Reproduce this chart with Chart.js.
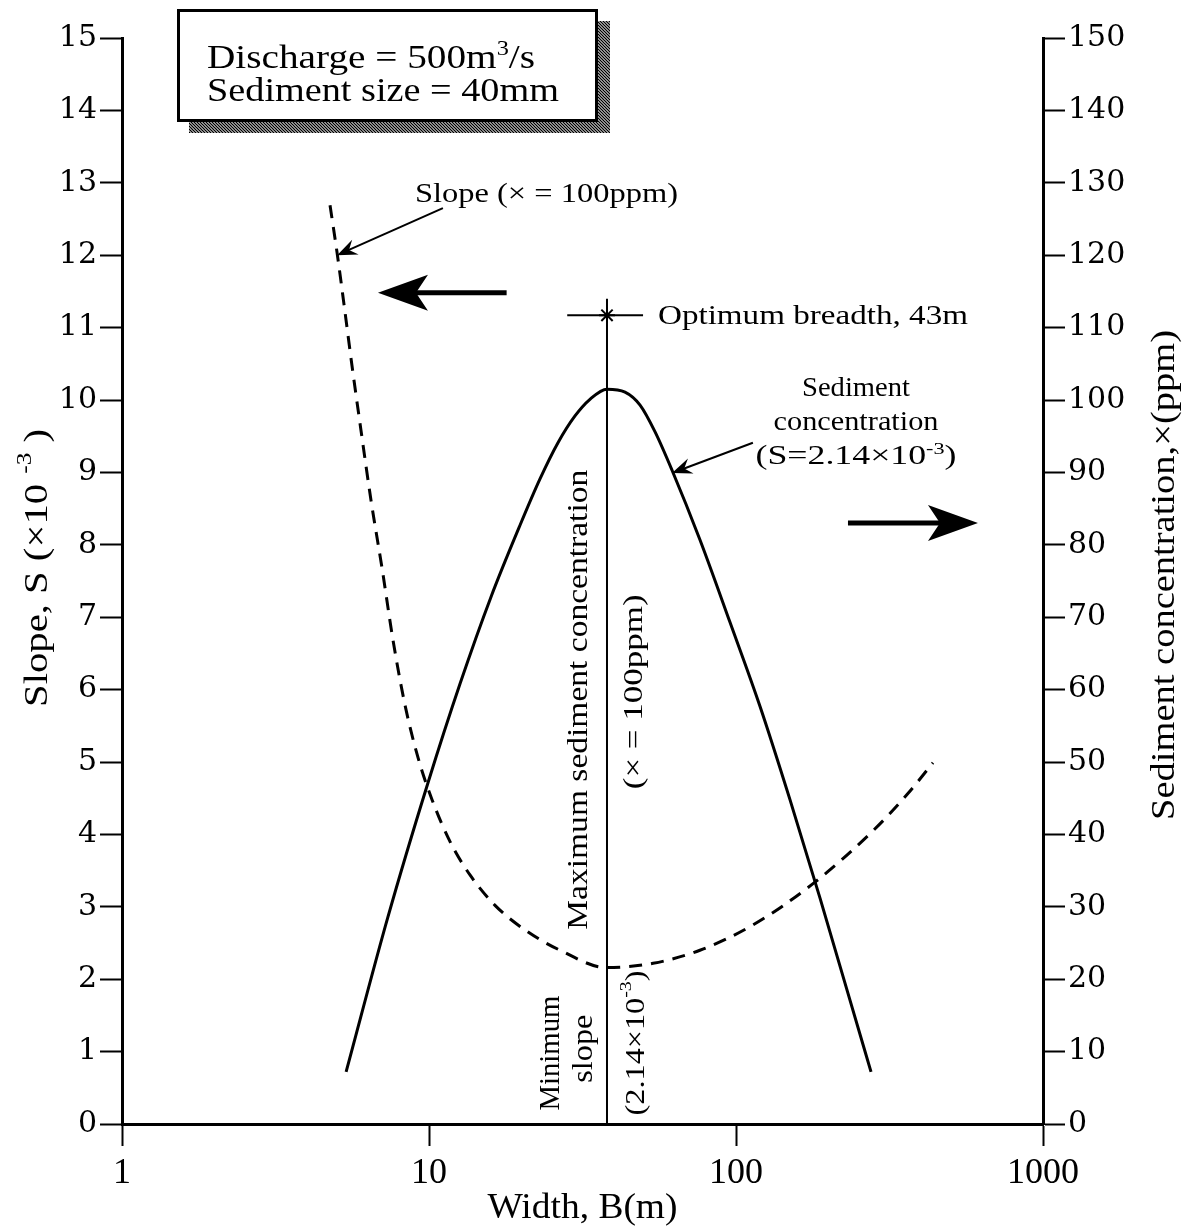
<!DOCTYPE html>
<html>
<head>
<meta charset="utf-8">
<script src="https://cdn.jsdelivr.net/npm/chart.js@4"></script>
<style>
  body { margin: 0; background: #fff; }
</style>
</head>
<body>
<canvas id="myChart" width="1196" height="1230"></canvas>
<script>
// width B (m) and slope S (x10^-3) for the dashed curve, X = 100 ppm
const slopeWidth  = [4.76, 5.02, 5.29, 5.61, 6.00, 6.47, 7.03, 7.63, 8.35, 9.21, 10.23, 11.71, 13.6, 16.41, 20.55, 26.72, 38.0, 53.7, 76.3, 113.6, 178.2, 279.5, 360.6, 438.2];
const slopeValues = [12.69, 12.03, 11.31, 10.48, 9.59, 8.62, 7.68, 6.69, 5.79, 5.06, 4.48, 3.90, 3.44, 3.02, 2.68, 2.40, 2.16, 2.22, 2.40, 2.75, 3.32, 4.05, 4.55, 4.99];

// width B (m) and sediment concentration (ppm) for the solid curve, S = 2.14e-3
const concWidth  = [5.37, 7.35, 9.92, 12.62, 15.92, 19.79, 22.99, 26.31, 29.89, 33.44, 38.0, 43.5, 48.7, 54.5, 61.9, 76.3, 95.6, 119.7, 149.9, 187.8, 235.1, 275.3];
const concValues = [7.2, 28.6, 47.1, 60.8, 72.8, 82.7, 89.1, 94.1, 97.8, 100.1, 101.5, 101.1, 99.3, 95.6, 90.3, 80.7, 69.3, 57.7, 44.8, 31.2, 17.1, 7.2];

// optimum breadth marker
const optimumWidth = 38.0;
const optimumTop = 11.4;
const optimumMark = 11.17;
const optimumBar = [28.2, 49.8];

const xTicks = [1, 10, 100, 1000];

const serif = '"Liberation Serif", "Times New Roman", serif';

function drawText(ctx, segs, x, y, o) {
  const size = o.size, supSize = size * 0.62;
  const setFont = sg => { ctx.font = (sg.sup ? supSize : size) + 'px ' + serif; };
  let natural = 0;
  segs.forEach(sg => { setFont(sg); natural += ctx.measureText(sg.t).width; });
  const sx = o.width ? o.width / natural : 1;
  ctx.save();
  ctx.translate(x, y);
  if (o.rot) ctx.rotate(o.rot);
  ctx.scale(sx, 1);
  ctx.textBaseline = o.baseline || 'alphabetic';
  ctx.textAlign = 'left';
  let cx = o.align === 'center' ? -natural / 2 : 0;
  segs.forEach(sg => {
    setFont(sg);
    ctx.fillText(sg.t, cx, sg.sup ? -size * 0.38 : 0);
    cx += ctx.measureText(sg.t).width;
  });
  ctx.restore();
}
const T = t => [{ t }];

function smallArrow(ctx, x1, y1, x2, y2) {
  const a = Math.atan2(y2 - y1, x2 - x1);
  ctx.lineWidth = 2;
  ctx.beginPath(); ctx.moveTo(x1, y1); ctx.lineTo(x2 - 8 * Math.cos(a), y2 - 8 * Math.sin(a)); ctx.stroke();
  ctx.save();
  ctx.translate(x2, y2); ctx.rotate(a);
  ctx.beginPath();
  ctx.moveTo(0, 0); ctx.lineTo(-20, -8); ctx.lineTo(-13, 0); ctx.lineTo(-20, 8);
  ctx.closePath(); ctx.fill();
  ctx.restore();
}

function bigArrow(ctx, x1, x2, y) {
  const dir = Math.sign(x2 - x1);
  ctx.lineWidth = 5;
  ctx.beginPath(); ctx.moveTo(x1, y); ctx.lineTo(x2 - dir * 30, y); ctx.stroke();
  ctx.beginPath();
  ctx.moveTo(x2, y);
  ctx.lineTo(x2 - dir * 50, y - 18);
  ctx.lineTo(x2 - dir * 38, y);
  ctx.lineTo(x2 - dir * 50, y + 18);
  ctx.closePath(); ctx.fill();
}

const decorations = {
  id: 'decorations',
  afterDraw(chart) {
    const { ctx, chartArea, scales: { x, y } } = chart;
    const X = v => x.getPixelForValue(v), Y = v => y.getPixelForValue(v);
    ctx.save();
    ctx.fillStyle = '#000';
    ctx.strokeStyle = '#000';

    // info box with hatched shadow
    const pc = document.createElement('canvas');
    pc.width = 3; pc.height = 3;
    const p = pc.getContext('2d');
    p.fillStyle = '#fff'; p.fillRect(0, 0, 3, 3);
    p.strokeStyle = '#000'; p.lineWidth = 1.3;
    p.beginPath(); p.moveTo(0, 0); p.lineTo(3, 3); p.moveTo(-1, 2); p.lineTo(1, 4); p.moveTo(2, -1); p.lineTo(4, 1); p.stroke();
    ctx.fillStyle = ctx.createPattern(pc, 'repeat');
    ctx.fillRect(189, 21, 421, 112);
    ctx.fillStyle = '#fff';
    ctx.fillRect(177, 9, 421, 113);
    ctx.lineWidth = 3;
    ctx.strokeRect(178.5, 10.5, 418, 110);
    ctx.fillStyle = '#000';
    drawText(ctx, [{ t: 'Discharge = 500m' }, { t: '3', sup: true }, { t: '/s' }], 207, 68, { size: 33, width: 328 });
    drawText(ctx, T('Sediment size = 40mm'), 207, 101, { size: 33, width: 352 });

    // slope curve label
    drawText(ctx, T('Slope (\u00d7 = 100ppm)'), X(9.0), Y(12.74), { size: 28, width: 263 });
    smallArrow(ctx, X(11.1), Y(12.65), X(5.02), Y(12.0));
    bigArrow(ctx, X(17.9), X(6.82), Y(11.48));

    // optimum breadth
    drawText(ctx, T('Optimum breadth, 43m'), X(55.7), Y(11.05), { size: 28, width: 310 });

    // sediment concentration label
    drawText(ctx, T('Sediment'), X(246), Y(10.05), { size: 28, width: 108, align: 'center' });
    drawText(ctx, T('concentration'), X(246), Y(9.58), { size: 28, width: 165, align: 'center' });
    drawText(ctx, [{ t: '(S=2.14\u00d710' }, { t: '-3', sup: true }, { t: ')' }], X(246), Y(9.11), { size: 28, width: 201, align: 'center' });
    smallArrow(ctx, X(113.5), Y(9.41), X(61.9), Y(8.99));
    bigArrow(ctx, X(231.6), X(614), Y(8.30));

    // vertical labels along the optimum line
    const up = -Math.PI / 2;
    drawText(ctx, T('Maximum sediment concentration'), X(31.0), Y(5.86), { size: 29, width: 460, align: 'center', baseline: 'middle', rot: up });
    drawText(ctx, T('(\u00d7 = 100ppm)'), X(46.6), Y(5.97), { size: 28, width: 195, align: 'center', baseline: 'middle', rot: up });
    drawText(ctx, T('Minimum'), X(24.9), Y(0.98), { size: 30, width: 115, align: 'center', baseline: 'middle', rot: up });
    drawText(ctx, T('slope'), X(32.0), Y(1.04), { size: 30, width: 68, align: 'center', baseline: 'middle', rot: up });
    drawText(ctx, [{ t: '(2.14\u00d710' }, { t: '-3', sup: true }, { t: ')' }], X(47.5), Y(1.12), { size: 28, width: 145, align: 'center', baseline: 'middle', rot: up });

    // axis titles
    drawText(ctx, [{ t: 'Slope, S (\u00d710 ' }, { t: '-3', sup: true }, { t: ' )' }], 38, chartArea.top + 530, { size: 34, width: 278, align: 'center', baseline: 'middle', rot: up });
    drawText(ctx, T('Sediment concentration,\u00d7(ppm)'), 1165, chartArea.top + 537, { size: 34, width: 490, align: 'center', baseline: 'middle', rot: up });
    drawText(ctx, T('Width, B(m)'), (chartArea.left + chartArea.right) / 2, 1218, { size: 36, width: 190, align: 'center' });
    ctx.restore();
  }
};

const axisLine = { color: '#000', width: 3 };
const tickGrid = { drawOnChartArea: false, drawTicks: true, tickLength: 22, tickWidth: 2, tickColor: '#000' };

new Chart('myChart', {
  type: 'line',
  data: {
    datasets: [{
      label: 'Slope',
      data: slopeWidth.map((b, i) => ({ x: b, y: slopeValues[i] })),
      yAxisID: 'y',
      borderColor: '#000',
      borderWidth: 3,
      borderDash: [13, 9],
      pointRadius: 0,
      cubicInterpolationMode: 'monotone',
      fill: false
    }, {
      label: 'Sediment concentration',
      data: concWidth.map((b, i) => ({ x: b, y: concValues[i] })),
      yAxisID: 'y2',
      borderColor: '#000',
      borderWidth: 3,
      pointRadius: 0,
      cubicInterpolationMode: 'monotone',
      fill: false
    }, {
      label: 'Optimum breadth',
      data: [{ x: optimumWidth, y: 0 }, { x: optimumWidth, y: optimumTop }],
      yAxisID: 'y',
      borderColor: '#000',
      borderWidth: 2,
      pointRadius: 0,
      fill: false
    }, {
      label: 'Optimum bar',
      data: optimumBar.map(b => ({ x: b, y: optimumMark })),
      yAxisID: 'y',
      borderColor: '#000',
      borderWidth: 2,
      pointRadius: 0,
      fill: false
    }, {
      label: 'Optimum point',
      data: [{ x: optimumWidth, y: optimumMark }],
      yAxisID: 'y',
      showLine: false,
      borderColor: '#000',
      borderWidth: 2,
      pointStyle: 'star',
      pointRadius: 8
    }]
  },
  options: {
    responsive: false,
    animation: false,
    layout: { padding: { top: 38, left: 0, right: 0, bottom: 0 } },
    plugins: {
      legend: { display: false },
      tooltip: { enabled: false }
    },
    scales: {
      x: {
        type: 'logarithmic',
        min: 1,
        max: 1000,
        afterBuildTicks: s => { s.ticks = xTicks.map(v => ({ value: v })); },
        afterFit: s => { s.height = 106; },
        ticks: {
          color: '#000',
          padding: 6,
          maxRotation: 0,
          font: { family: serif, size: 36 },
          callback: v => String(v)
        },
        grid: tickGrid,
        border: axisLine
      },
      y: {
        position: 'left',
        min: 0,
        max: 15,
        afterFit: s => { s.width = 122; },
        ticks: { stepSize: 1, color: '#000', padding: 3, font: { family: '"DejaVu Serif", serif', size: 30 } },
        grid: tickGrid,
        border: axisLine
      },
      y2: {
        position: 'right',
        min: 0,
        max: 150,
        afterFit: s => { s.width = 153; },
        ticks: { stepSize: 10, color: '#000', padding: 3, font: { family: '"DejaVu Serif", serif', size: 30 } },
        grid: tickGrid,
        border: axisLine
      }
    }
  },
  plugins: [decorations]
});
</script>
</body>
</html>
